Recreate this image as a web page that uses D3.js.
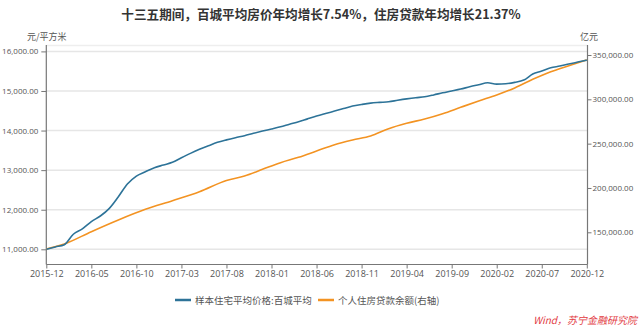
<!DOCTYPE html>
<html><head><meta charset="utf-8">
<script src="https://cdn.jsdelivr.net/npm/d3@7/dist/d3.min.js"></script>
<style>
html,body{margin:0;padding:0;background:#fff;}
svg{display:block;}
text{font-family:"Noto Sans CJK SC","Noto Sans",sans-serif;}
</style></head>
<body><svg id="c" width="642" height="327"></svg>
<script>
const title = "十三五期间，百城平均房价年均增长7.54%，住房贷款年均增长21.37%";
const leftUnit = "元/平方米";
const rightUnit = "亿元";
const seriesNames = ["样本住宅平均价格:百城平均", "个人住房贷款余额(右轴)"];
const source = "Wind，苏宁金融研究院";
const startMonth = "2015-12";
const xTickLabels = ["2015-12","2016-05","2016-10","2017-03","2017-08","2018-01","2018-06","2018-11","2019-04","2019-09","2020-02","2020-07","2020-12"];
const leftTicks = [11000,12000,13000,14000,15000,16000];
const rightTicks = [150000,200000,250000,300000,350000];
// monthly, 2015-12 .. 2020-12
const priceValues = [11000,11060,11117,11380,11515,11700,11841,12035,12328,12649,12851,12960,13061,13129,13197,13313,13424,13525,13616,13702,13765,13820,13870,13930,13987,14040,14096,14160,14222,14295,14366,14430,14492,14555,14619,14660,14694,14712,14727,14765,14800,14830,14853,14900,14954,15000,15048,15106,15157,15207,15174,15182,15217,15275,15427,15503,15586,15629,15680,15730,15780];
const loanDates = ["2015-12","2016-02","2016-05","2016-08","2016-11","2017-02","2017-05","2017-08","2017-10","2017-12","2018-02","2018-04","2018-06","2018-08","2018-10","2018-12","2019-02","2019-04","2019-06","2019-08","2019-10","2019-12","2020-02","2020-04","2020-06","2020-08","2020-10","2020-12"];
const loanValues = [131200,136800,150700,163900,175900,185600,195800,208500,213500,221000,228500,234600,241700,248800,254100,258600,266900,273000,277800,283800,291000,298100,304900,312800,322600,331200,337900,344400];

const colors = ["#2d7398", "#f39322"];
const parse = d3.timeParse("%Y-%m");
const fmtM = d3.timeFormat("%Y-%m");
const t0 = parse(startMonth);
const monthIndex = d => d3.timeMonth.count(t0, d);

const svg = d3.select("#c");
const L = 46.3, R = 587.5, T = 45, B = 264.5;

const x = d3.scaleLinear().domain([0, 60]).range([L, R - 0.7]);
const yL = d3.scaleLinear().domain([11000, 16000]).range([249.3, 51.4]);
const yR = d3.scaleLinear().domain([150000, 350000]).range([232.3, 55]);

// gridlines
const g = svg.append("g");
g.selectAll("line.grid").data(leftTicks).join("line")
  .attr("x1", L).attr("x2", R).attr("y1", d => yL(d)).attr("y2", d => yL(d))
  .attr("stroke", "#e6e6e6").attr("stroke-width", 1.5);
g.append("line").attr("x1", L).attr("x2", R).attr("y1", T + 0.5).attr("y2", T + 0.5)
  .attr("stroke", "#eeeeee").attr("stroke-width", 1.5);

// axes
const axisColor = "#777";
const lab = "#555";
const leftAxis = svg.append("g").attr("transform", `translate(${L},0)`)
  .call(d3.axisLeft(yL).tickValues(leftTicks).tickFormat(d3.format(",.2f")).tickSize(5).tickSizeOuter(0));
leftAxis.select(".domain").attr("d", `M0,${T}V${B}`);
const rightAxis = svg.append("g").attr("transform", `translate(${R},0)`)
  .call(d3.axisRight(yR).tickValues(rightTicks).tickFormat(d3.format(",.2f")).tickSize(4).tickSizeOuter(0));
rightAxis.select(".domain").attr("d", `M0,${T}V${B}`);
const xTicks = xTickLabels.map(s => monthIndex(parse(s)));
const bottomAxis = svg.append("g").attr("transform", `translate(0,${B})`)
  .call(d3.axisBottom(x).tickValues(xTicks).tickFormat(i => fmtM(d3.timeMonth.offset(t0, i))).tickSize(4).tickSizeOuter(0));
bottomAxis.select(".domain").attr("d", `M${L},0H${R}`);
[leftAxis, rightAxis, bottomAxis].forEach(a => {
  a.select(".domain").attr("stroke", axisColor).attr("stroke-width", 1.2);
  a.selectAll(".tick line").attr("stroke", axisColor);
  a.selectAll("text").attr("fill", lab).attr("font-size", 9)
    .style("font-family", '"Open Sans","Noto Sans",sans-serif');
});
leftAxis.selectAll("text").attr("x", -8).attr("font-size", 8);
rightAxis.selectAll("text").attr("x", 5).attr("font-size", 8);
bottomAxis.selectAll("text").attr("y", 6.5);

// lines
const priceData = priceValues.map((v, i) => ({i, v}));
const loanData = loanDates.map((d, k) => ({i: monthIndex(parse(d)), v: loanValues[k]}));
svg.append("path").datum(loanData)
  .attr("fill", "none").attr("stroke", colors[1]).attr("stroke-width", 1.6)
  .attr("d", d3.line().x(d => x(d.i)).y(d => yR(d.v)).curve(d3.curveMonotoneX));
svg.append("path").datum(priceData)
  .attr("fill", "none").attr("stroke", colors[0]).attr("stroke-width", 1.6)
  .attr("d", d3.line().x(d => x(d.i)).y(d => yL(d.v)).curve(d3.curveMonotoneX));

// title
svg.append("text").attr("x", 321).attr("y", 19).attr("text-anchor", "middle")
  .attr("font-size", 12.6).attr("font-weight", "bold").attr("fill", "#333").text(title);
svg.append("text").attr("x", 27).attr("y", 40).attr("font-size", 9).attr("fill", lab).text(leftUnit);
svg.append("text").attr("x", 589).attr("y", 40).attr("text-anchor", "middle").attr("font-size", 9).attr("fill", lab).text(rightUnit);

// legend
const legX = [175, 318];
seriesNames.forEach((n, k) => {
  svg.append("line").attr("x1", legX[k]).attr("x2", legX[k] + 16).attr("y1", 300).attr("y2", 300)
    .attr("stroke", colors[k]).attr("stroke-width", 2.5);
  svg.append("text").attr("x", legX[k] + 20).attr("y", 303.5).attr("font-size", 9.5).attr("fill", lab).text(n);
});

// source
svg.append("text").attr("x", 637).attr("y", 324).attr("text-anchor", "end")
  .attr("font-size", 10).attr("font-style", "italic").attr("fill", "#e23a3f").text(source);
</script></body></html>
